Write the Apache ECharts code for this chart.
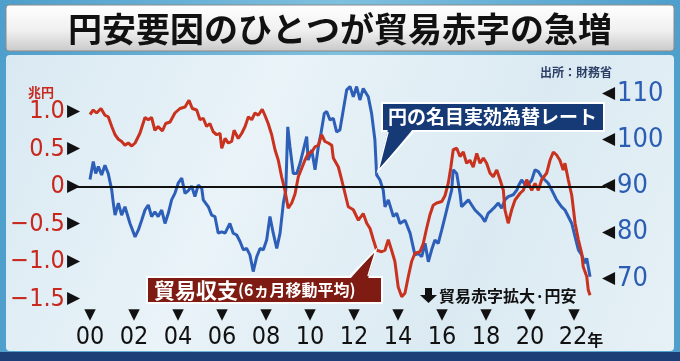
<!DOCTYPE html>
<html>
<head>
<meta charset="utf-8">
<script src="https://cdn.jsdelivr.net/npm/echarts@6/dist/echarts.min.js"></script>
<style>
html,body{margin:0;padding:0;background:#5aa6cf;}
#c{width:680px;height:361px;}
</style>
</head>
<body>
<div id="c"></div>
<script>
// ---- data ----
var titleText = '円安要因のひとつが貿易赤字の急増';
var sourceText = '出所：財務省';
var leftUnit = '兆円';
var xTickYears = [2000,2002,2004,2006,2008,2010,2012,2014,2016,2018,2020,2022];
var leftTicks = [1.0,0.5,0,-0.5,-1.0,-1.5];
var rightTicks = [110,100,90,80,70];

// 貿易収支(6ヵ月移動平均), 兆円 : [year, value]
var tradeYears = [2000.00,2000.15,2000.30,2000.50,2000.68,2000.83,2000.99,2001.14,2001.29,2001.44,2001.59,2001.74,2001.90,
2002.05,2002.27,2002.50,2002.65,2002.80,2002.95,2003.10,2003.29,2003.44,2003.64,2003.86,2004.09,2004.32,2004.50,2004.65,2004.85,
2005.00,2005.15,2005.30,2005.45,2005.60,2005.76,2005.91,2005.99,2006.14,2006.29,2006.44,2006.55,2006.74,2006.90,2007.05,2007.20,
2007.35,2007.50,2007.65,2007.83,2007.95,2008.10,2008.26,2008.41,2008.56,2008.71,2008.86,2009.01,2009.17,2009.32,2009.47,2009.62,
2009.77,2009.92,2010.08,2010.23,2010.38,2010.53,2010.68,2010.83,2010.99,2011.06,2011.14,2011.29,2011.44,2011.59,2011.74,2011.97,
2012.20,2012.42,2012.58,2012.73,2012.88,2013.03,2013.26,2013.41,2013.56,2013.71,2013.86,2014.01,2014.17,2014.32,2014.47,2014.62,
2014.77,2015.00,2015.15,2015.30,2015.45,2015.60,2015.76,2015.99,2016.14,2016.29,2016.40,2016.51,2016.67,2016.82,2016.97,2017.12,
2017.27,2017.42,2017.58,2017.73,2017.88,2018.03,2018.18,2018.33,2018.49,2018.64,2018.79,2018.86,2019.01,2019.17,2019.32,2019.55,
2019.70,2019.85,2020.08,2020.23,2020.38,2020.53,2020.76,2020.91,2021.06,2021.21,2021.36,2021.51,2021.59,2021.74,2021.90,2022.05,
2022.20,2022.35,2022.42,2022.58,2022.65,2022.73];
var tradeValues = [0.96,1.02,0.98,1.04,0.95,0.93,0.80,0.69,0.63,0.60,0.55,0.58,0.54,
0.58,0.71,0.92,0.89,0.92,0.75,0.80,0.74,0.84,0.86,0.98,1.04,1.06,1.15,1.04,1.02,
0.89,0.91,0.80,0.84,0.73,0.69,0.71,0.51,0.64,0.58,0.60,0.75,0.64,0.71,0.80,0.93,
0.89,0.98,0.95,1.03,0.95,0.84,0.69,0.49,0.35,0.13,-0.05,-0.29,-0.22,-0.10,0.13,0.24,
0.35,0.44,0.46,0.53,0.55,0.69,0.60,0.58,0.55,0.38,0.40,0.26,0.09,-0.09,-0.27,-0.31,
-0.45,-0.36,-0.49,-0.56,-0.71,-0.85,-0.87,-0.85,-0.71,-0.85,-1.00,-1.34,-1.47,-1.42,-1.20,-1.00,
-0.89,-0.87,-0.76,-0.56,-0.38,-0.25,-0.22,-0.20,-0.12,0.05,0.25,0.49,0.51,0.40,0.46,0.31,
0.35,0.26,0.44,0.31,0.38,0.31,0.18,0.13,0.22,0.09,-0.05,-0.31,-0.49,-0.31,-0.18,-0.09,
-0.05,0.09,-0.05,0.04,-0.05,0.09,0.18,0.35,0.46,0.42,0.35,0.22,0.31,0.09,-0.12,-0.49,
-0.71,-0.89,-1.07,-1.20,-1.38,-1.45];

// 円の名目実効為替レート : [year, value]
var rateYears = [2000.00,2000.15,2000.26,2000.38,2000.53,2000.68,2000.83,2000.99,2001.06,2001.14,2001.29,2001.44,2001.59,2001.82,
2002.05,2002.20,2002.35,2002.50,2002.65,2002.80,2002.95,2003.10,2003.26,2003.41,2003.56,2003.71,2003.86,2004.01,2004.17,2004.32,
2004.47,2004.62,2004.77,2004.92,2005.08,2005.15,2005.38,2005.53,2005.68,2005.83,2005.99,2006.14,2006.36,2006.51,2006.67,2006.82,
2006.97,2007.12,2007.27,2007.42,2007.58,2007.73,2007.88,2008.03,2008.18,2008.33,2008.49,2008.64,2008.79,2008.90,2008.99,2009.09,
2009.24,2009.40,2009.55,2009.70,2009.85,2009.92,2010.08,2010.23,2010.38,2010.50,2010.65,2010.76,2010.91,2011.06,2011.21,2011.36,
2011.67,2011.82,2011.97,2012.12,2012.27,2012.42,2012.65,2012.80,2012.95,2013.03,2013.18,2013.33,2013.41,2013.56,2013.79,2013.94,
2014.09,2014.32,2014.55,2014.77,2014.92,2015.08,2015.23,2015.38,2015.53,2015.68,2015.83,2015.99,2016.14,2016.29,2016.44,2016.51,
2016.67,2016.82,2016.89,2017.05,2017.20,2017.35,2017.50,2017.65,2017.80,2017.95,2018.10,2018.26,2018.41,2018.56,2018.71,2018.86,
2019.01,2019.24,2019.40,2019.47,2019.62,2019.85,2020.08,2020.23,2020.38,2020.53,2020.68,2020.83,2020.99,2021.21,2021.44,2021.59,
2021.74,2021.90,2022.05,2022.20,2022.35,2022.50,2022.58,2022.73];
var rateValues = [91.4,95.3,92.7,94.2,92.4,94.5,92.7,89.1,86.3,83.7,86.3,83.7,85.5,81.9,
79.0,80.5,82.6,84.8,85.9,83.4,84.4,83.4,84.8,81.9,84.1,87.0,88.4,90.6,91.7,88.4,
89.0,90.0,87.7,90.2,89.5,87.0,85.5,83.7,83.4,79.8,80.1,79.8,81.9,79.8,79.4,78.0,
76.2,76.5,75.1,71.5,74.7,76.5,76.2,78.3,83.4,79.8,76.5,79.8,86.3,89.1,102.8,98.5,
92.7,92.7,94.9,97.8,100.7,95.6,97.8,93.5,98.5,101.4,105.7,106.1,104.3,104.6,101.7,102.1,
110.8,111.5,109.3,111.5,108.6,111.1,109.3,105.7,100.0,92.4,91.3,89.1,85.5,87.0,83.4,84.1,
81.9,82.6,79.8,75.1,75.4,74.7,77.6,73.6,76.2,78.3,77.6,80.5,83.4,86.3,89.1,93.5,
92.7,88.4,85.5,86.3,87.0,85.9,84.8,84.1,83.4,82.3,84.1,84.8,85.5,86.3,85.2,87.0,
87.7,88.1,89.1,90.0,91.3,89.9,91.3,93.5,93.1,92.0,91.3,90.6,89.1,87.0,85.5,84.8,
83.4,81.9,79.0,76.2,75.1,73.3,74.4,70.4];

function pairs(xs, ys){ return xs.map(function(x,i){ return [x, ys[i]]; }); }

var numFont = '"DejaVu Sans Condensed","Liberation Sans Narrow","Roboto Condensed","DejaVu Sans",sans-serif';
var jpFont = '"Noto Sans CJK JP",sans-serif';
var symFont = '"DejaVu Sans",sans-serif';

var chart = echarts.init(document.getElementById('c'), null, {renderer:'canvas'});

var option = {
  animation: false,
  backgroundColor: 'transparent',
  grid: {left: 77, right: 75, top: 80, bottom: 50},
  xAxis: {
    type: 'value', min: 1999.41, max: 2023.41,
    axisLine: {show: true, lineStyle: {color: '#111', width: 2}},
    axisTick: {show: false},
    splitLine: {show: false},
    axisLabel: {
      customValues: xTickYears,
      margin: -3,
      formatter: function(v){
        var s = String(Math.round(v) - 2000); if (s.length < 2) s = '0' + s;
        if (Math.round(v) === 2022) return '{t|▼}\n{p|}{v|' + s + '}{y|年}';
        return '{t|▼}\n{v|' + s + '}';
      },
      rich: {
        t: {fontSize: 15, color: '#111', lineHeight: 14, align: 'center', fontFamily: symFont},
        v: {fontSize: 25, color: '#111', fontFamily: numFont, lineHeight: 31},
        p: {width: 14, lineHeight: 31},
        y: {fontSize: 16, color: '#111', fontFamily: jpFont, fontWeight: 'bold', lineHeight: 31, padding: [4,0,0,0]}
      }
    }
  },
  yAxis: [
    {
      type: 'value', min: -1.66, max: 1.42, position: 'left',
      axisLine: {show: false}, axisTick: {show: false}, splitLine: {show: false},
      axisLabel: {
        customValues: leftTicks, margin: -3,
        formatter: function(v){
          var s = v === 0 ? '0' : (v < 0 ? '−' + Math.abs(v).toFixed(1) : v.toFixed(1));
          return '{v|' + s + '}{a|▶}';
        },
        rich: {
          v: {fontSize: 25, color: '#c8281e', fontFamily: numFont},
          a: {fontSize: 17, color: '#111', padding: [0,0,0,2], fontFamily: symFont}
        }
      }
    },
    {
      type: 'value', min: 62.97, max: 112.92, position: 'right',
      axisLine: {show: false}, axisTick: {show: false}, splitLine: {show: false},
      axisLabel: {
        customValues: rightTicks, margin: -3,
        formatter: function(v){ return '{a|◀}{v|' + v + '}'; },
        rich: {
          v: {fontSize: 27, color: '#2a5db3', fontFamily: numFont},
          a: {fontSize: 17, color: '#111', padding: [0,2,0,0], fontFamily: symFont}
        }
      }
    }
  ],
  series: [
    {
      name: 'zero', type: 'line', yAxisIndex: 0, data: [], z: 1,
      markLine: {silent: true, symbol: 'none', label: {show: false},
        lineStyle: {color: '#111', width: 2, type: 'solid'}, data: [{yAxis: 0}]}
    },
    {
      name: '円の名目実効為替レート', type: 'line', yAxisIndex: 1, showSymbol: false, z: 3,
      lineStyle: {color: '#2d5fb8', width: 3}, data: pairs(rateYears, rateValues)
    },
    {
      name: '貿易収支', type: 'line', yAxisIndex: 0, showSymbol: false, z: 4,
      lineStyle: {color: '#c8321e', width: 3}, data: pairs(tradeYears, tradeValues)
    }
  ],
  graphic: {elements: [
    // frame and panel
    {type: 'rect', z: -100, shape: {x: 0, y: 0, width: 680, height: 361}, style: {fill: new echarts.graphic.LinearGradient(0,0,1,0,[{offset:0,color:'#4e9fcc'},{offset:0.5,color:'#7fc0df'},{offset:1,color:'#4e9fcc'}])}},
    {type: 'rect', z: -99, shape: {x: 0, y: 352, width: 680, height: 9}, style: {fill: '#1d3f78'}},
    {type: 'rect', z: -98, shape: {x: 6, y: 55, width: 668, height: 296, r: 4}, style: {fill: new echarts.graphic.LinearGradient(0,0,1,1,[{offset:0,color:'#d9e9f2'},{offset:0.35,color:'#e9f3f8'},{offset:0.7,color:'#dbeaf2'},{offset:1,color:'#e6f1f6'}])}},
    {type: 'rect', z: -97, shape: {x: 6, y: 5, width: 668, height: 46, r: 3}, style: {fill: new echarts.graphic.LinearGradient(0,0,0,1,[{offset:0,color:'#ffffff'},{offset:0.55,color:'#f0f0f0'},{offset:1,color:'#c9c9c9'}]), stroke: '#8a8a8a', lineWidth: 1}},
    {type: 'text', z: 10, style: {text: titleText, x: 340, y: 29, textAlign: 'center', textVerticalAlign: 'middle', font: 'bold 34px "Noto Sans CJK JP", sans-serif', fill: '#111'}},
    {type: 'text', z: 10, style: {text: sourceText, x: 612, y: 72, textAlign: 'right', textVerticalAlign: 'middle', font: 'bold 12px "Noto Sans CJK JP", sans-serif', fill: '#2b3f66'}},
    {type: 'text', z: 10, style: {text: leftUnit, x: 41, y: 92, textAlign: 'center', textVerticalAlign: 'middle', font: 'bold 13px "Noto Sans CJK JP", sans-serif', fill: '#c8281e'}},
    // blue callout
    {type: 'rect', z: 50, shape: {x: 382, y: 103, width: 222, height: 28}, style: {fill: '#163a76', stroke: '#ffffff', lineWidth: 2}},
    {type: 'polygon', z: 51, shape: {points: [[388,129],[413,129],[378,171]]}, style: {fill: '#163a76'}},
    {type: 'polyline', z: 52, shape: {points: [[388,132],[378,171],[413,132]]}, style: {stroke: '#ffffff', lineWidth: 1.5, fill: null}},
    {type: 'text', z: 53, style: {text: '円の名目実効為替レート', x: 388, y: 117, textVerticalAlign: 'middle', font: 'bold 19px "Noto Sans CJK JP", sans-serif', fill: '#ffffff'}},
    // red callout
    {type: 'rect', z: 50, shape: {x: 147, y: 277, width: 235, height: 26}, style: {fill: '#7e1b12', stroke: '#ffffff', lineWidth: 2}},
    {type: 'polygon', z: 51, shape: {points: [[350,279],[368,279],[376,250]]}, style: {fill: '#7e1b12'}},
    {type: 'polyline', z: 52, shape: {points: [[350,276],[376,250],[368,276]]}, style: {stroke: '#ffffff', lineWidth: 1.5, fill: null}},
    {type: 'text', z: 53, style: {text: '{a|貿易収支}{b|(6ヵ月移動平均)}', x: 154, y: 290, textVerticalAlign: 'middle', fill: '#ffffff',
      rich: {a: {font: 'bold 21px "Noto Sans CJK JP", sans-serif', fill: '#fff'}, b: {font: 'bold 16px "Noto Sans CJK JP", sans-serif', fill: '#fff'}}}},
    // annotation arrow
    {type: 'polygon', z: 53, shape: {points: [[425,288],[432,288],[432,295],[437,295],[428.5,303],[420,295],[425,295]]}, style: {fill: '#111'}},
    {type: 'text', z: 53, style: {text: '貿易赤字拡大·円安', x: 439, y: 296, textVerticalAlign: 'middle', font: 'bold 16px "Noto Sans CJK JP", sans-serif', fill: '#111'}}
  ]}
};
chart.setOption(option);
</script>
</body>
</html>
